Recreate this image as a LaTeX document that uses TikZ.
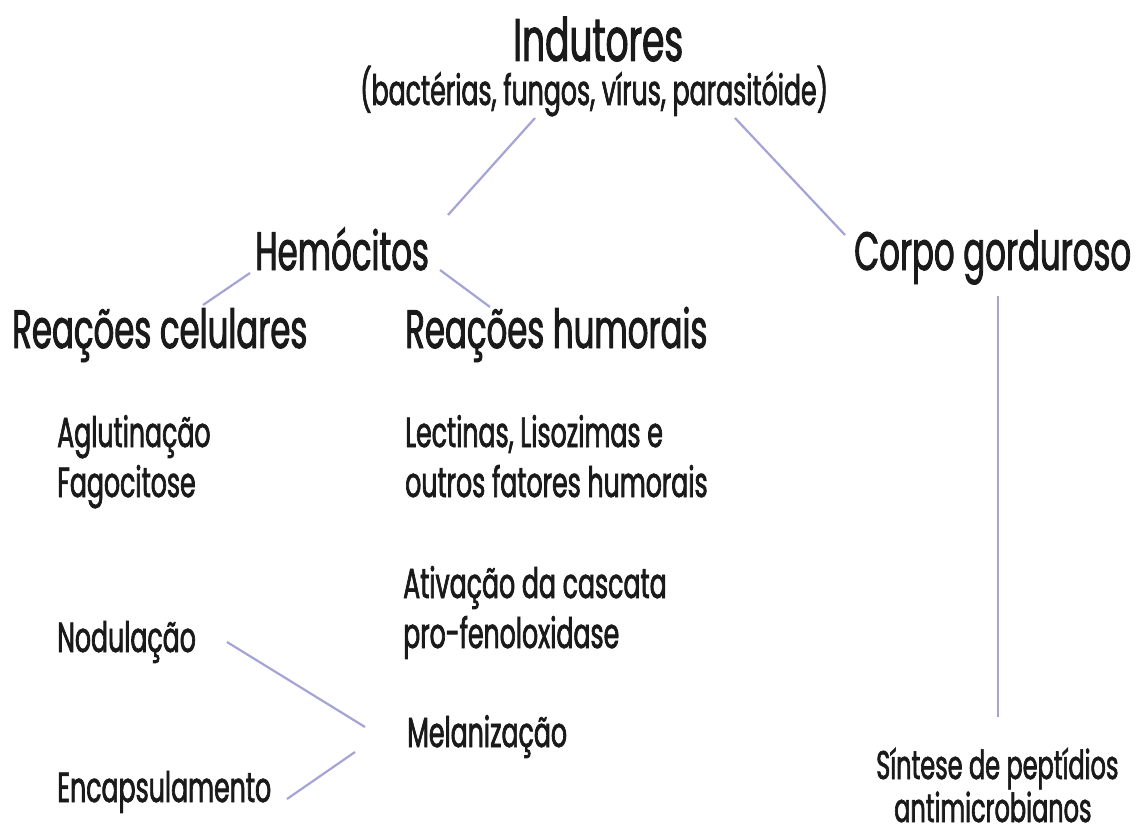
\documentclass[tikz,border=0pt]{standalone}
\usepackage{fontspec}
\setmainfont{Poppins}[FakeStretch=0.6,FakeBold=1.6]
\definecolor{linkc}{HTML}{A4A4D6}
\definecolor{ink}{HTML}{1A1A1A}
\begin{document}
\begin{tikzpicture}[x=1pt,y=-1pt,
  txt/.style={inner sep=0pt, anchor=base west, text=ink},
  huge/.style={txt, font=\fontsize{60}{66}\selectfont},
  big/.style={txt, font=\fontsize{54}{60}\selectfont},
  mid/.style={txt, font=\fontsize{42}{48}\selectfont},
  small/.style={txt, font=\fontsize{42}{50}\selectfont},
  foot/.style={txt, font=\fontsize{40}{46}\selectfont},
  link/.style={draw=linkc, line width=2.2pt}]
\useasboundingbox[fill=white] (0,0) rectangle (1142,834);
% nodes
\node[huge] (ind) at (513,61) {Indutores};
\node[mid] (par) at (360,105) {(bactérias, fungos, vírus, parasitóide)};
\node[big] (hem) at (255,270) {Hemócitos};
\node[big] (corpo) at (854,270) {Corpo gorduroso};
\node[big] (rc) at (12,348) {Reações celulares};
\node[big] (rh) at (405,348) {Reações humorais};
\node[small] (agl) at (57,447) {Aglutinação};
\node[small] (fag) at (57,497) {Fagocitose};
\node[small] (lec) at (405,447) {Lectinas, Lisozimas e};
\node[small] (out) at (405,497) {outros fatores humorais};
\node[small] (ati) at (403,598) {Ativação da cascata};
\node[small] (pro) at (403,648) {pro-fenoloxidase};
\node[small] (nod) at (57,652) {Nodulação};
\node[small] (mel) at (407,747) {Melanização};
\node[small] (enc) at (57,802) {Encapsulamento};
\node[foot] (sin) at (876,779) {Síntese de peptídios};
\node[foot] (ant) at (894,822) {antimicrobianos};
% connectors
\draw[link] ([shift={(175,13)}]par.base west) -- ([shift={(193,-55)}]hem.base west);
\draw[link] ([shift={(375,13)}]par.base west) -- ([shift={(-9,-35)}]corpo.base west);
\draw[link] ([shift={(-5,3)}]hem.base west) -- ([shift={(191,-43)}]rc.base west);
\draw[link] ([shift={(185,0)}]hem.base west) -- ([shift={(85,-41)}]rh.base west);
\draw[link] ([shift={(144,26)}]corpo.base west) -- ([shift={(122,-62)}]sin.base west);
\draw[link] ([shift={(170,-10)}]nod.base west) -- ([shift={(-42,-20)}]mel.base west);
\draw[link] ([shift={(230,-3)}]enc.base west) -- ([shift={(-52,5)}]mel.base west);
\end{tikzpicture}
\end{document}
